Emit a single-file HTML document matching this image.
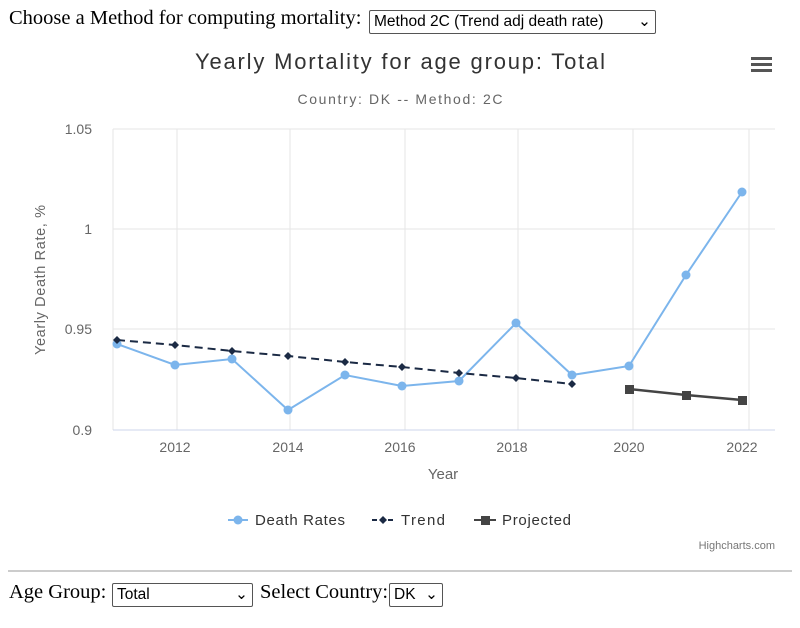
<!DOCTYPE html>
<html><head><style>
body{margin:0;background:#fff;width:800px;height:628px;overflow:hidden;font-family:"Liberation Serif",serif;}
.top{position:absolute;left:9px;top:8px;font-size:20.5px;color:#000;white-space:nowrap;}
.sel{position:absolute;border:1px solid #555;border-radius:2px;font-family:"Liberation Sans",sans-serif;font-size:15.5px;padding:0 4px;height:22px;line-height:22px;box-sizing:border-box;height:24px;white-space:nowrap;color:#000;}
.bot{position:absolute;left:9px;top:581px;font-size:20.5px;white-space:nowrap;}
.lbl{position:absolute;font-family:"Liberation Serif",serif;font-size:20.5px;white-space:nowrap;}
</style></head><body>
<div class="lbl" style="left:9px;top:7px">Choose a Method for computing mortality:</div>
<div class="sel" style="left:369px;top:10px;width:287px">Method 2C (Trend adj death rate) <span style="float:right">&#8964;</span></div>
<div class="lbl" style="left:9px;top:581px">Age Group:</div>
<div class="sel" style="left:112px;top:583px;width:141px">Total<span style="float:right">&#8964;</span></div>
<div class="lbl" style="left:260px;top:581px">Select Country:</div>
<div class="sel" style="left:389px;top:583px;width:54px">DK <span style="float:right">&#8964;</span></div>
<svg width="800" height="628" style="position:absolute;left:0;top:0" font-family="Liberation Sans, sans-serif">
<text x="400" y="69" text-anchor="middle" font-size="22" fill="#333" textLength="410">Yearly Mortality for age group: Total</text>
<rect x="751" y="57" width="21" height="3" fill="#555"/><rect x="751" y="63" width="21" height="3" fill="#555"/><rect x="751" y="69" width="21" height="3" fill="#555"/>
<text x="400" y="104" text-anchor="middle" font-size="14" fill="#666" textLength="205">Country: DK -- Method: 2C</text>
<g stroke="#e6e6e6" stroke-width="1">
<line x1="113" y1="129" x2="775" y2="129"/><line x1="113" y1="229" x2="775" y2="229"/><line x1="113" y1="329" x2="775" y2="329"/>
<line x1="113" y1="129" x2="113" y2="430"/><line x1="177" y1="129" x2="177" y2="430"/><line x1="290" y1="129" x2="290" y2="430"/><line x1="405" y1="129" x2="405" y2="430"/><line x1="518" y1="129" x2="518" y2="430"/><line x1="633" y1="129" x2="633" y2="430"/><line x1="749" y1="129" x2="749" y2="430"/>
</g>
<line x1="113" y1="430" x2="775" y2="430" stroke="#ccd6eb"/>
<g font-size="14" fill="#666" text-anchor="end">
<text x="92" y="134">1.05</text><text x="92" y="234">1</text><text x="92" y="334">0.95</text><text x="92" y="435">0.9</text>
</g>
<g font-size="14" fill="#666" text-anchor="middle">
<text x="175" y="452">2012</text><text x="288" y="452">2014</text><text x="400" y="452">2016</text><text x="512" y="452">2018</text><text x="629" y="452">2020</text><text x="742" y="452">2022</text>
</g>
<text x="443" y="479" text-anchor="middle" font-size="15" fill="#666">Year</text>
<text transform="translate(45,280) rotate(-90)" text-anchor="middle" font-size="14.5" fill="#666" textLength="150">Yearly Death Rate, %</text>
<polyline fill="none" stroke="#7cb5ec" stroke-width="2" points="117,344 175,365 232,359 288,410 345,375 402,386 459,381 516,323 572,375 629,366 686,275 742,192"/>
<g fill="#7cb5ec"><circle cx="117" cy="344" r="4.5"/><circle cx="175" cy="365" r="4.5"/><circle cx="232" cy="359" r="4.5"/><circle cx="288" cy="410" r="4.5"/><circle cx="345" cy="375" r="4.5"/><circle cx="402" cy="386" r="4.5"/><circle cx="459" cy="381" r="4.5"/><circle cx="516" cy="323" r="4.5"/><circle cx="572" cy="375" r="4.5"/><circle cx="629" cy="366" r="4.5"/><circle cx="686" cy="275" r="4.5"/><circle cx="742" cy="192" r="4.5"/></g>
<polyline fill="none" stroke="#1b2a44" stroke-width="2" stroke-dasharray="8,5" points="117,340 175,345 232,351 288,356 345,362 402,367 459,373 516,378 572,384"/>
<g fill="#1b2a44"><path d="M117,336l4,4-4,4-4-4z"/><path d="M175,341l4,4-4,4-4-4z"/><path d="M232,347l4,4-4,4-4-4z"/><path d="M288,352l4,4-4,4-4-4z"/><path d="M345,358l4,4-4,4-4-4z"/><path d="M402,363l4,4-4,4-4-4z"/><path d="M459,369l4,4-4,4-4-4z"/><path d="M516,374l4,4-4,4-4-4z"/><path d="M572,380l4,4-4,4-4-4z"/></g>
<polyline fill="none" stroke="#444" stroke-width="2.5" points="629,389 686,395 742,400"/>
<g fill="#444"><rect x="625" y="385" width="9" height="9"/><rect x="682" y="391" width="9" height="9"/><rect x="738" y="396" width="9" height="9"/></g>
<line x1="228" y1="520" x2="248" y2="520" stroke="#7cb5ec" stroke-width="2"/><circle cx="238" cy="520" r="4.5" fill="#7cb5ec"/>
<text x="255" y="525" font-size="15" fill="#333" textLength="90">Death Rates</text>
<line x1="372" y1="520" x2="394" y2="520" stroke="#1b2a44" stroke-width="2" stroke-dasharray="5,3"/><path d="M383,516l4,4-4,4-4-4z" fill="#1b2a44"/>
<text x="401" y="525" font-size="15" fill="#333" textLength="44">Trend</text>
<line x1="474" y1="520" x2="496" y2="520" stroke="#444" stroke-width="2"/><rect x="481" y="516" width="9" height="9" fill="#444"/>
<text x="502" y="525" font-size="15" fill="#333" textLength="69">Projected</text>
<text x="775" y="549" text-anchor="end" font-size="11" fill="#777">Highcharts.com</text>
<line x1="8" y1="571" x2="792" y2="571" stroke="#999"/>
</svg>
</body></html>
